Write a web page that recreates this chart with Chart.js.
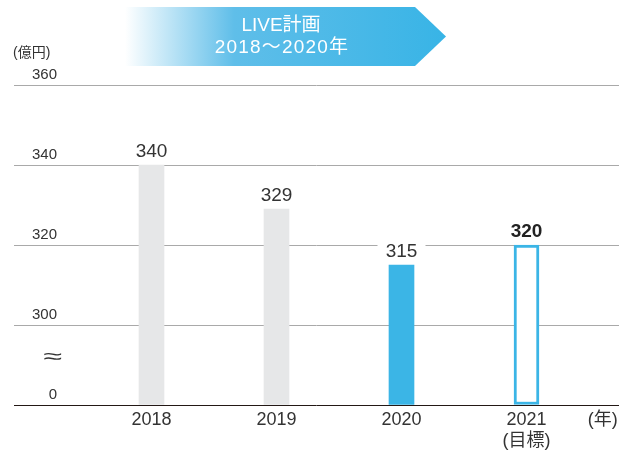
<!DOCTYPE html>
<html><head><meta charset="utf-8">
<script src="https://cdn.jsdelivr.net/npm/chart.js@4"></script>
<style>html,body{margin:0;padding:0;background:#fff}#wrap{width:627px;height:456px;position:relative}</style>
</head><body><div id="wrap"><canvas id="c"></canvas></div>
<script>
const years = [2018, 2019, 2020, 2021];
const values = [340, 329, 315, 320];
const xTickLabels = ['2018', '2019', '2020', ['2021', '(目標)']];
const xUnitLabel = '(年)';
const yUnitLabel = '(億円)';
const yTicks = [280, 300, 320, 340, 360];
const yTickLabels = ['0', '300', '320', '340', '360'];
const bannerLines = ['LIVE計画', '2018～2020年'];
const breakMark = '≈';

const FONT = "'Liberation Sans', 'Noto Sans CJK JP', sans-serif";
Chart.defaults.font.family = FONT;
const BLUE = '#3bb5e6';
const GRAY = '#e6e7e8';
const TEXT = '#333333';
const UNIT_X_POS = 2021.61;

const deco = {
  id: 'deco',
  beforeDraw(chart) {
    const ctx = chart.ctx;
    ctx.save();
    const g = ctx.createLinearGradient(125, 0, 446, 0);
    g.addColorStop(0, '#ffffff');
    g.addColorStop(0.34, '#5fbee9');
    g.addColorStop(1, '#38b4e6');
    ctx.fillStyle = g;
    ctx.beginPath();
    ctx.moveTo(125, 7); ctx.lineTo(415, 7); ctx.lineTo(446, 36.5);
    ctx.lineTo(415, 66); ctx.lineTo(125, 66); ctx.closePath();
    ctx.fill();
    ctx.fillStyle = '#ffffff';
    ctx.font = '19px ' + FONT;
    ctx.textAlign = 'center';
    ctx.textBaseline = 'middle';
    ctx.letterSpacing = '0px';
    ctx.fillText(bannerLines[0], 281, 25.5);
    ctx.letterSpacing = '1.2px';
    ctx.fillText(bannerLines[1], 282, 47.5);
    ctx.restore();
  },
  afterDatasetsDraw(chart) {
    const ctx = chart.ctx;
    const meta = chart.getDatasetMeta(0);
    ctx.save();
    meta.data.forEach((el, i) => {
      const bold = i === values.length - 1;
      ctx.font = (bold ? 'bold ' : '') + '19px ' + FONT;
      const base = el.y - 8;
      ctx.fillStyle = '#ffffff';
      ctx.fillRect(el.x - 24, base - 16, 48, 20);
      ctx.fillStyle = bold ? '#222222' : TEXT;
      ctx.textAlign = 'center';
      ctx.textBaseline = 'alphabetic';
      ctx.fillText(String(values[i]), el.x, base);
    });
    ctx.restore();
  },
  afterDraw(chart) {
    const ctx = chart.ctx;
    ctx.save();
    ctx.fillStyle = TEXT;
    ctx.font = '14px ' + FONT;
    ctx.textAlign = 'left';
    ctx.textBaseline = 'middle';
    ctx.fillText(yUnitLabel, 13, 53);
    const yb = chart.scales.y.getPixelForValue(292);
    ctx.translate(53, yb);
    ctx.scale(1.7, 1);
    ctx.font = '20px ' + FONT;
    ctx.textAlign = 'center';
    ctx.fillText(breakMark, 0, 0);
    ctx.restore();
  }
};

new Chart(document.getElementById('c'), {
  type: 'bar',
  data: {
    datasets: [{
      data: years.map((y, i) => ({ x: y, y: values[i] })),
      backgroundColor: [GRAY, GRAY, BLUE, '#ffffff'],
      borderColor: BLUE,
      borderWidth: [0, 0, 0, 3],
      borderSkipped: false,
      barThickness: 25,
      base: 280
    }]
  },
  options: {
    responsive: true,
    maintainAspectRatio: false,
    animation: false,
    layout: { padding: { left: 14, right: 8, top: 85, bottom: 0 } },
    plugins: { legend: { display: false }, tooltip: { enabled: false } },
    scales: {
      x: {
        type: 'linear',
        min: 2016.9,
        max: 2021.74,
        offset: false,
        grid: { display: false, drawTicks: false },
        border: { display: false },
        afterBuildTicks: s => { s.ticks = years.map(v => ({ value: v })).concat([{ value: UNIT_X_POS }]); },
        afterFit: s => { s.height = 51; },
        ticks: {
          autoSkip: false, maxRotation: 0, minRotation: 0, padding: 4,
          color: TEXT, font: { size: 18 },
          callback: v => { const i = years.indexOf(v); return i >= 0 ? xTickLabels[i] : xUnitLabel; }
        }
      },
      y: {
        min: 280,
        max: 360,
        afterBuildTicks: s => { s.ticks = yTicks.map(v => ({ value: v })); },
        afterFit: s => { s.width = 0; },
        grid: {
          drawTicks: false,
          color: c => (c.tick && c.tick.value === 280) ? '#231815' : '#a9a9a9',
          lineWidth: 1
        },
        border: { display: false },
        ticks: {
          mirror: true, crossAlign: 'far', padding: 18, labelOffset: -10,
          color: TEXT, font: { size: 15 },
          callback: v => { const i = yTicks.indexOf(v); return i >= 0 ? yTickLabels[i] : ''; }
        }
      }
    }
  },
  plugins: [deco]
});
</script>
</body></html>
